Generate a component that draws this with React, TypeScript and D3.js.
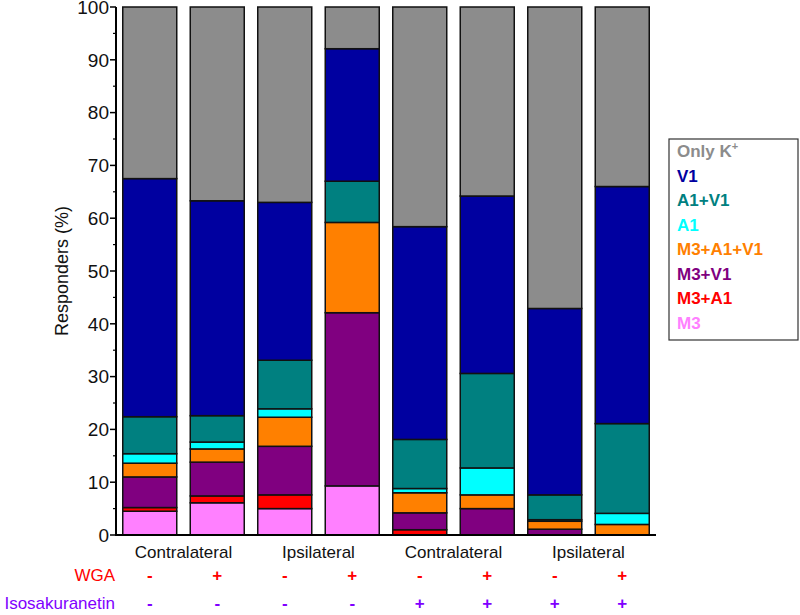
import React from 'react';
import * as d3 from 'd3';

const bars = ['b1', 'b2', 'b3', 'b4', 'b5', 'b6', 'b7', 'b8'];
// stacking order bottom -> top
const stackKeys = ['M3', 'M3+A1', 'M3+V1', 'M3+A1+V1', 'A1', 'A1+V1', 'V1', 'Only K+'];
const M3 = [4.5, 6.1, 5.0, 9.3, 0, 0, 0, 0];
const M3A1 = [0.7, 1.3, 2.6, 0, 1.0, 0, 0, 0];
const M3V1 = [5.8, 6.4, 9.2, 32.8, 3.2, 5.0, 1.1, 0];
const M3A1V1 = [2.6, 2.5, 5.5, 17.1, 3.8, 2.6, 1.5, 2.0];
const A1 = [1.8, 1.3, 1.6, 0, 0.8, 5.1, 0.3, 2.1];
const A1V1 = [7.0, 5.0, 9.2, 7.8, 9.3, 17.9, 4.7, 17.0];
const V1 = [45.1, 40.7, 29.9, 25.1, 40.3, 33.6, 35.3, 44.9];
const OnlyK = [32.5, 36.7, 37.0, 7.9, 41.6, 35.8, 57.1, 34.0];

const seriesValues: Record<string, number[]> = {
  'M3': M3, 'M3+A1': M3A1, 'M3+V1': M3V1, 'M3+A1+V1': M3A1V1,
  'A1': A1, 'A1+V1': A1V1, 'V1': V1, 'Only K+': OnlyK,
};
const colors: Record<string, string> = {
  'Only K+': '#8c8c8c', 'V1': '#0000a0', 'A1+V1': '#008080', 'A1': '#00ffff',
  'M3+A1+V1': '#ff8000', 'M3+V1': '#800080', 'M3+A1': '#ff0000', 'M3': '#ff80ff',
};
const legendOrder = ['Only K+', 'V1', 'A1+V1', 'A1', 'M3+A1+V1', 'M3+V1', 'M3+A1', 'M3'];
const sideLabels = ['Contralateral', 'Ipsilateral', 'Contralateral', 'Ipsilateral'];
const wga = ['-', '+', '-', '+', '-', '+', '-', '+'];
const iso = ['-', '-', '-', '-', '+', '+', '+', '+'];
const yTicks = [0, 10, 20, 30, 40, 50, 60, 70, 80, 90, 100];

const FONT = 'Arial, "Liberation Sans", sans-serif';

export default function App() {
  const left = 116, right = 656, top = 7, bottom = 535;
  const x = d3.scaleBand<string>().domain(bars).range([left, right]).paddingInner(0.2).paddingOuter(0.1);
  const y = d3.scaleLinear().domain([0, 100]).range([bottom, top]);
  const table = bars.map((b, i) => {
    const o: any = { bar: b };
    stackKeys.forEach(k => { o[k] = seriesValues[k][i]; });
    return o;
  });
  const stacked = d3.stack<any>().keys(stackKeys)(table);
  const minor = d3.range(5, 100, 10);

  return (
    <svg width={800} height={615} style={{ position: 'absolute', left: 0, top: 0, background: '#fff' }} fontFamily={FONT}>
      {stacked.map(s => (
        <g key={s.key}>
          {s.map((d, i) => d[1] - d[0] > 0 ? (
            <rect key={i} x={x(bars[i])} width={x.bandwidth()} y={y(d[1])} height={y(d[0]) - y(d[1])}
              fill={colors[s.key]} stroke="#111" strokeWidth={1.5} />
          ) : null)}
        </g>
      ))}
      {/* axes */}
      <line x1={left} x2={left} y1={top} y2={bottom} stroke="#000" strokeWidth={2} />
      <line x1={left - 1} x2={right} y1={bottom} y2={bottom} stroke="#000" strokeWidth={2} />
      {yTicks.map(t => (
        <g key={t}>
          <line x1={left - 6} x2={left} y1={y(t)} y2={y(t)} stroke="#000" strokeWidth={1.5} />
          <text x={left - 7} y={y(t)} dy="0.36em" textAnchor="end" fontSize={19} fill="#111">{t}</text>
        </g>
      ))}
      {minor.map(t => (
        <line key={t} x1={left - 3} x2={left} y1={y(t)} y2={y(t)} stroke="#000" strokeWidth={1.2} />
      ))}
      <text transform={`translate(68,${(top + bottom) / 2}) rotate(-90)`} textAnchor="middle" fontSize={18} fill="#111">Responders (%)</text>
      {/* group labels */}
      {sideLabels.map((l, g) => {
        const cx = ((x(bars[g * 2]) as number) + (x(bars[g * 2 + 1]) as number) + x.bandwidth()) / 2;
        return <text key={g} x={cx} y={558} textAnchor="middle" fontSize={17} fill="#111">{l}</text>;
      })}
      <text x={115} y={581} textAnchor="end" fontSize={17} fill="#ff0000">WGA</text>
      <text x={115} y={609} textAnchor="end" fontSize={17} fill="#8000ff">Isosakuranetin</text>
      {bars.map((b, i) => {
        const cx = (x(b) as number) + x.bandwidth() / 2;
        return (
          <g key={b}>
            <text x={cx} y={581} textAnchor="middle" fontSize={17} fontWeight="bold" fill="#ff0000">{wga[i]}</text>
            <text x={cx} y={609} textAnchor="middle" fontSize={17} fontWeight="bold" fill="#8000ff">{iso[i]}</text>
          </g>
        );
      })}
      {/* legend */}
      <rect x={669} y={139} width={129} height={201} fill="#fff" stroke="#333" strokeWidth={1.2} />
      {legendOrder.map((k, i) => (
        <text key={k} x={677} y={151 + i * 24.5} dy="0.36em" fontSize={17} fontWeight="bold" fill={colors[k]}>
          {k === 'Only K+' ? (<>Only K<tspan dy="-7" fontSize={11}>+</tspan></>) : k}
        </text>
      ))}
    </svg>
  );
}
